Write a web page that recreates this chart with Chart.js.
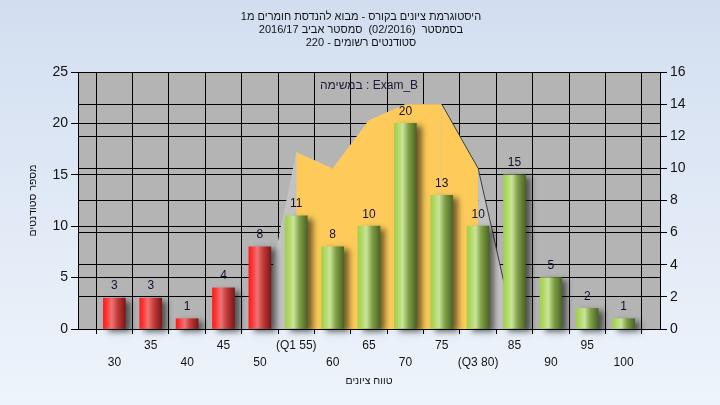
<!DOCTYPE html>
<html><head><meta charset="utf-8">
<style>html,body{margin:0;padding:0;background:#e4ecf7}#wrap{width:720px;height:405px}</style>
<script src="https://cdn.jsdelivr.net/npm/chart.js@4/dist/chart.umd.min.js"></script>
</head><body><div id="wrap"><canvas id="c" width="720" height="405"></canvas></div>
<script>
// ---- data ----
const grades = [30,35,40,45,50,55,60,65,70,75,80,85,90,95,100];
const counts = [3,3,1,4,8,11,8,10,20,13,10,15,5,2,1];
const xTickLabels = ['30','35','40','45','50','(Q1 55)','60','65','70','75','(Q3 80)','85','90','95','100'];
const passMark = 55;
const curveX = [50,55,60,65,70,75,80,85];
const curveY = [0,11,10,13,14,14,10,0];
const q1 = 55, q3 = 80;
const titleLines = [
  'היסטוגרמת ציונים בקורס - מבוא להנדסת חומרים מ1',
  'בסמסטר  (02/2016)  סמסטר אביב 2016/17',
  'סטודנטים רשומים - 220'
];
const yTitle = 'מספר סטודנטים';
const xTitle = 'טווח ציונים';
const legendText = 'במשימה : Exam_B';

const FONT = '"Liberation Sans", Arial, "DejaVu Sans", sans-serif';
const TXT = '#141414';

const allPts = curveX.map((x,i)=>({x, y: curveY[i]}));
const iqrPts = allPts.filter(p => p.x >= q1 && p.x <= q3);

function barGrad(ctx){
  const chart = ctx.chart, xs = chart.scales && chart.scales.x;
  const fail = grades[ctx.dataIndex] < passMark;
  const solid = fail ? '#d83a3a' : '#98be58';
  if (!xs || ctx.type !== 'data') return solid;
  const g = grades[ctx.dataIndex];
  const cx = xs.getPixelForValue(g);
  if (!isFinite(cx)) return solid;
  const gr = chart.ctx.createLinearGradient(cx-11,0,cx+11,0);
  if (fail){
    gr.addColorStop(0,'#ff1c1c'); gr.addColorStop(0.12,'#ff3030');
    gr.addColorStop(0.38,'#ee7474'); gr.addColorStop(0.65,'#c23a3a');
    gr.addColorStop(1,'#7c1818');
  } else {
    gr.addColorStop(0,'#a4d04e'); gr.addColorStop(0.12,'#acd65c');
    gr.addColorStop(0.38,'#c8e49a'); gr.addColorStop(0.65,'#7f9e45');
    gr.addColorStop(1,'#4a6526');
  }
  return gr;
}

const bgPlugin = {
  id:'bg',
  beforeDraw(chart){
    const c = chart.ctx, a = chart.chartArea;
    c.save();
    const g = c.createLinearGradient(0,0,0,chart.height);
    g.addColorStop(0,'#d2def0'); g.addColorStop(1,'#eef4fb');
    c.fillStyle = g; c.fillRect(0,0,chart.width,chart.height);
    c.fillStyle = '#b4b4b4';
    c.fillRect(a.left,a.top,a.right-a.left,a.bottom-a.top);
    c.restore();
  }
};
const shadowPlugin = {
  id:'shadow',
  beforeDatasetDraw(chart,args){
    if (args.index===0){ const c=chart.ctx; c.save(); c.shadowColor='rgba(0,0,0,0.55)'; c.shadowBlur=6; c.shadowOffsetX=5; c.shadowOffsetY=3; }
  },
  afterDatasetDraw(chart,args){ if (args.index===0) chart.ctx.restore(); }
};
const textPlugin = {
  id:'texts',
  afterDatasetsDraw(chart){
    const c = chart.ctx, a = chart.chartArea;
    c.save();
    c.font = '12px ' + FONT; c.fillStyle = '#10102a';
    c.textAlign='center'; c.textBaseline='middle';
    chart.getDatasetMeta(0).data.forEach((el,i)=>{ c.fillText(String(counts[i]), el.x, el.y-12); });
    c.fillStyle = '#1a1a3a';
    c.fillText(legendText, (a.left+a.right)/2, a.top+14);
    // chart title
    c.fillStyle = TXT;
    c.font = '11px ' + FONT;
    titleLines.forEach((t,i)=> c.fillText(t, 361, 17 + 13*i));
    // x axis title
    c.font = '10.5px ' + FONT;
    c.fillText(xTitle, (a.left+a.right)/2, 381);
    c.restore();
  }
};

new Chart(document.getElementById('c'), {
  data: {
    datasets: [
      { type:'bar', data: grades.map((g,i)=>({x:g, y:counts[i]})), yAxisID:'y',
        backgroundColor: barGrad, borderWidth:0, barThickness:22, order:0, clip:false },
      { type:'line', data: iqrPts, yAxisID:'y2', fill:'origin', backgroundColor:'#fecb5a',
        borderWidth:1, pointRadius:0, tension:0, order:1,
        segment:{ borderColor: s => s.p0.parsed.x >= 75 ? '#3c3c3c' : 'rgba(0,0,0,0)' } },
      { type:'line', data: allPts, yAxisID:'y2', fill:'origin', backgroundColor:'#c2c2c2',
        borderWidth:1, pointRadius:0, tension:0, order:2,
        segment:{ borderColor: s => s.p0.parsed.x >= 80 ? '#3c3c3c' : 'rgba(0,0,0,0)' } }
    ]
  },
  options: {
    responsive:false, animation:false, devicePixelRatio:1,
    layout:{ padding:{ top:72, left:0, right:0, bottom:0 } },
    plugins:{ legend:{ display:false }, tooltip:{ enabled:false }, title:{ display:false } },
    scales:{
      x:{ type:'linear', min:25, max:105, offset:false,
        ticks:{ stepSize:5, autoSkip:false, maxRotation:0, minRotation:0, padding:3, color:TXT,
          font:{ family:FONT, size:12, lineHeight:17/12 },
          callback:(v)=>{ const i = grades.indexOf(v); if (i<0) return ''; return (v/5)%2===1 ? [xTickLabels[i]] : ['', xTickLabels[i]]; } },
        grid:{ color:'#000', lineWidth:1, tickLength:5 },
        border:{ color:'#000' },
        afterFit(s){ s.height = 76; } },
      y:{ position:'left', min:0, max:25,
        ticks:{ stepSize:5, padding:3, color:TXT, font:{ family:FONT, size:14 } },
        grid:{ color:'#000', lineWidth:1, tickLength:7 },
        border:{ color:'#000' },
        title:{ display:true, text:yTitle, color:TXT, font:{ family:FONT, size:10.5, lineHeight:14/10.5 }, padding:{ top:26, bottom:0 } },
        afterFit(s){ s.width = 78; } },
      y2:{ position:'right', min:0, max:16,
        ticks:{ stepSize:2, padding:3, color:TXT, font:{ family:FONT, size:14 } },
        grid:{ color:'#000', lineWidth:1, tickLength:7 },
        border:{ color:'#000' },
        afterFit(s){ s.width = 60; } }
    }
  },
  plugins:[bgPlugin, shadowPlugin, textPlugin]
});
</script></body></html>
